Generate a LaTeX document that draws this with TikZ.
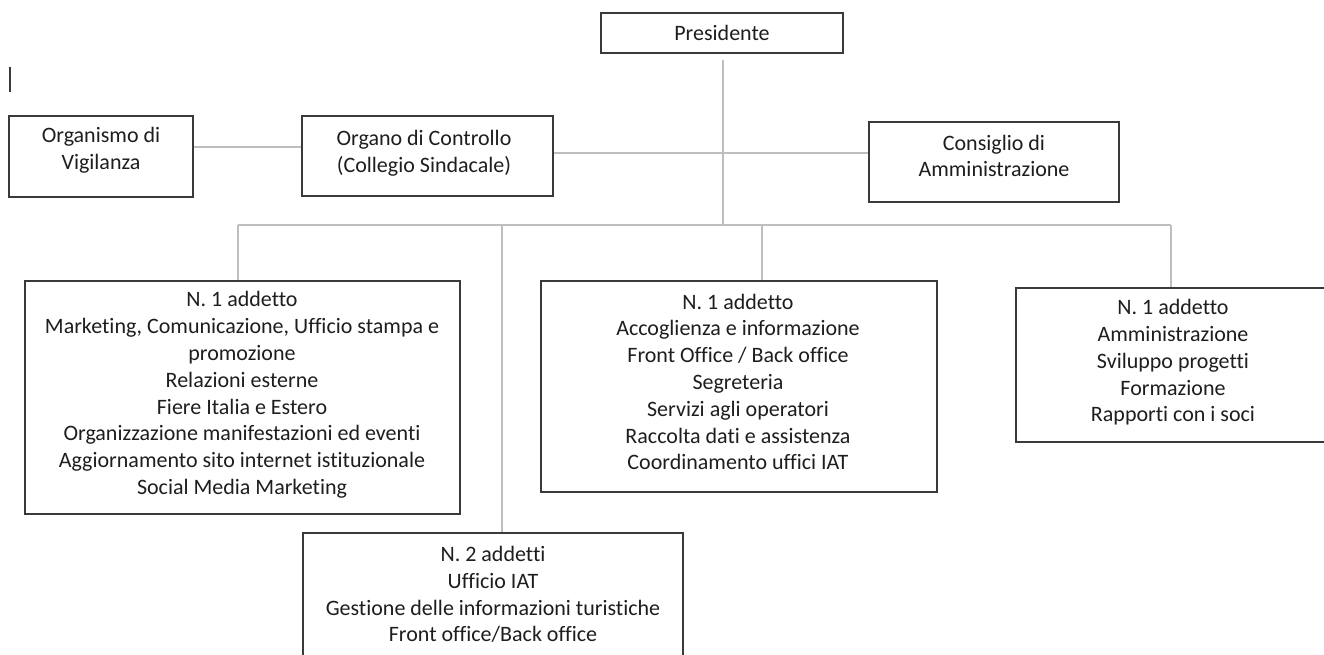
\documentclass[tikz,border=0pt]{standalone}
\usepackage{fontspec}
\setmainfont{Carlito}[Ligatures={NoCommon}]
\definecolor{boxline}{HTML}{3A3A3A}
\definecolor{conline}{HTML}{BEBEBE}
\definecolor{txtcol}{HTML}{1E1E1E}
\begin{document}
\begin{tikzpicture}[x=1pt,y=-1pt,
  orgbox/.style={draw=boxline, line width=1.6pt, rectangle, inner sep=0pt},
  txt/.style={align=center, text=txtcol, font=\fontsize{22}{26.8}\selectfont, inner sep=0pt},
  conn/.style={draw=conline, line width=1.4pt}]
\useasboundingbox (0,0) rectangle (1324,655);
\fill[white] (0,0) rectangle (1324,655);

% stray cursor mark
\draw[boxline, line width=1.3pt] (10,67) -- (10,92);

% boxes
\node[orgbox, minimum width=242pt, minimum height=40pt] (pres) at (722,33) {};
\node[orgbox, minimum width=184pt, minimum height=81pt] (odv) at (101,156.5) {};
\node[orgbox, minimum width=251pt, minimum height=80pt] (odc) at (427.5,156) {};
\node[orgbox, minimum width=250pt, minimum height=80pt] (cda) at (994,162) {};
\node[orgbox, minimum width=435pt, minimum height=233pt] (b1) at (242.5,397.5) {};
\node[orgbox, minimum width=396pt, minimum height=211pt] (b2) at (739,386.5) {};
\node[orgbox, minimum width=312pt, minimum height=154pt] (b3) at (1172,365) {};
\node[orgbox, minimum width=380pt, minimum height=128pt] (b4) at (493,597) {};

% texts
\node[txt] (prest) at (722,33) {Presidente};
\node[txt] (odvt) at (101,150) {Organismo di\\Vigilanza};
\node[txt] (odct) at (424,153.5) {Organo di Controllo\\(Collegio Sindacale)};
\node[txt] (cdat) at (994,156) {Consiglio di\\Amministrazione};
\node[txt] (b1t) at (242,395) {N. 1 addetto\\Marketing, Comunicazione, Ufficio stampa e\\promozione\\Relazioni esterne\\Fiere Italia e Estero\\Organizzazione manifestazioni ed eventi\\Aggiornamento sito internet istituzionale\\Social Media Marketing};
\node[txt] (b2t) at (738,382) {N. 1 addetto\\Accoglienza e informazione\\Front Office / Back office\\Segreteria\\Servizi agli operatori\\Raccolta dati e assistenza\\Coordinamento uffici IAT};
\node[txt] (b3t) at (1173,362.5) {N. 1 addetto\\Amministrazione\\Sviluppo progetti\\Formazione\\Rapporti con i soci};
\node[txt] (b4t) at (493,594.5) {N. 2 addetti\\Ufficio IAT\\Gestione delle informazioni turistiche\\Front office/Back office};

% connectors
\coordinate (busL) at (238,225);
\coordinate (busR) at (1171,225);
\coordinate (busP) at (723,225);
\coordinate (d4) at (502,225);
\coordinate (d2) at (762,225);
\coordinate (presb) at (723,60);

\draw[conn] ([yshift=9.5pt]odv.east) -- ([yshift=9pt]odc.west);
\draw[conn] ([yshift=3pt]odc.east) -- ([yshift=9pt]cda.west);
\draw[conn] (presb) -- (busP);
\draw[conn] (busL) -- (busR);
\draw[conn] (busL) -- (busL |- b1.north);
\draw[conn] (d4) -- (d4 |- b4.north);
\draw[conn] (d2) -- (d2 |- b2.north);
\draw[conn] (busR) -- (busR |- b3.north);
\end{tikzpicture}
\end{document}
